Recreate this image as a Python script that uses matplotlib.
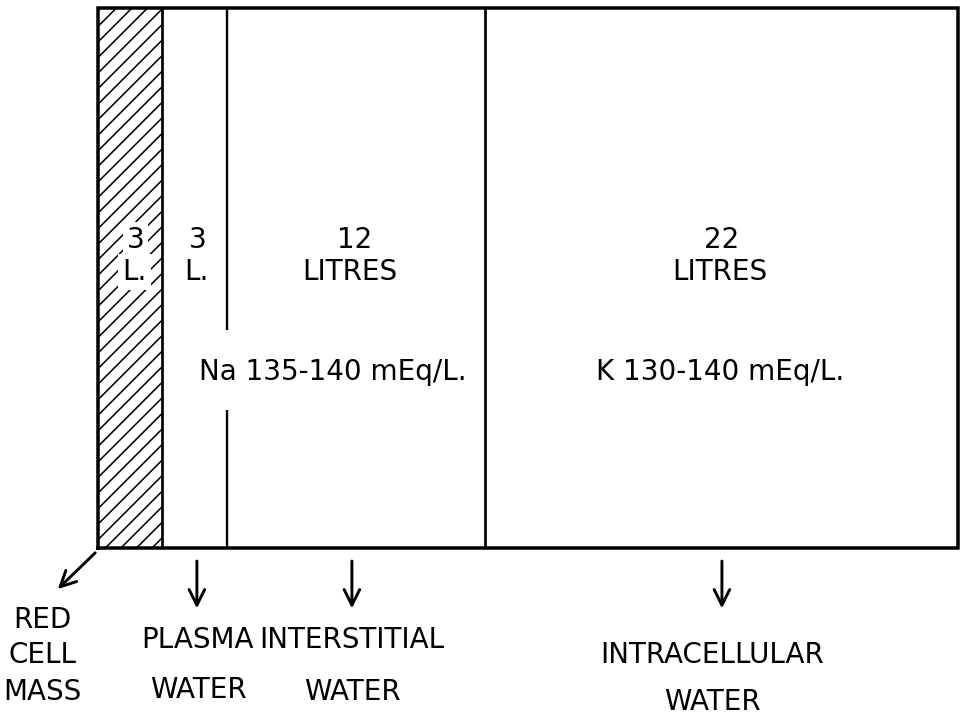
import numpy as np
import matplotlib
matplotlib.use("Agg")
import matplotlib.pyplot as plt

# body water compartments (litres)
compartments = ["RED\nCELL\nMASS", "PLASMA\nWATER", "INTERSTITIAL\nWATER", "INTRACELLULAR\nWATER"]
volumes = [3, 3, 12, 22]
na_label = "Na 135-140 mEq/L."
k_label = "K 130-140 mEq/L."

plt.rcParams['font.family'] = ['DejaVu Sans']
plt.rcParams['hatch.linewidth'] = 0.8

# dpi 140 so the hatch spacing is closer to the drawing
DPI = 140
fig = plt.figure(figsize=(961 / DPI, 719 / DPI), dpi=DPI)
ax = fig.add_axes([0, 0, 1, 1])
ax.set_xlim(-4.558, 40.14)
ax.set_ylim(-0.3167, 1.0148)
ax.axis("off")

lefts = np.concatenate([[0], np.cumsum(volumes)[:-1]])
ax.bar(lefts, 1, width=volumes, align="edge", color="white",
       edgecolor="black", linewidth=0, hatch=["///", "", "", ""])

# outer frame
total = sum(volumes)
ax.plot([0, total, total, 0, 0], [0, 0, 1, 1, 0], color="black", lw=1.8,
        solid_joinstyle="miter")
# dividers
ax.vlines(lefts[1], 0, 1, color="black", lw=1.4)
ax.vlines(lefts[3], 0, 1, color="black", lw=1.4)
ax.vlines(lefts[2], 0.404, 1, color="black", lw=1.2)
ax.vlines(lefts[2], 0, 0.256, color="black", lw=1.2)

fs = 14.3
white = dict(facecolor="white", edgecolor="none", pad=2.0)
# volume labels
ax.text(1.75, 0.570, "3", ha="center", va="center", fontsize=fs, bbox=white)
ax.text(1.7, 0.511, "L.", ha="center", va="center", fontsize=fs, bbox=white)
ax.text(4.65, 0.570, "3", ha="center", va="center", fontsize=fs)
ax.text(4.56, 0.511, "L.", ha="center", va="center", fontsize=fs)
ax.text(11.95, 0.570, "12", ha="center", va="center", fontsize=fs)
ax.text(11.72, 0.511, "LITRES", ha="center", va="center", fontsize=fs)
ax.text(29.02, 0.570, "22", ha="center", va="center", fontsize=fs)
ax.text(28.93, 0.511, "LITRES", ha="center", va="center", fontsize=fs)
ax.text(10.93, 0.326, na_label, ha="center", va="center", fontsize=fs)
ax.text(28.93, 0.326, k_label, ha="center", va="center", fontsize=fs)

# arrows and compartment names
arrow = dict(arrowstyle="->", color="black", lw=1.5, mutation_scale=20)
ax.annotate("", xy=(-2.0, -0.081), xytext=(0, -0.004), arrowprops=arrow)
for x in [4.6, 11.81, 29.02]:
    ax.annotate("", xy=(x, -0.119), xytext=(x, -0.017), arrowprops=arrow)

name_pos = [(-2.6, [-0.133, -0.198, -0.267]),
            (4.65, [-0.170, -0.263]),
            (11.81, [-0.170, -0.267]),
            (28.56, [-0.198, -0.285])]
for name, (x, ys) in zip(compartments, name_pos):
    for line, y in zip(name.split("\n"), ys):
        ax.text(x, y, line, ha="center", va="center", fontsize=fs)

fig.savefig("out.png", dpi=DPI)
